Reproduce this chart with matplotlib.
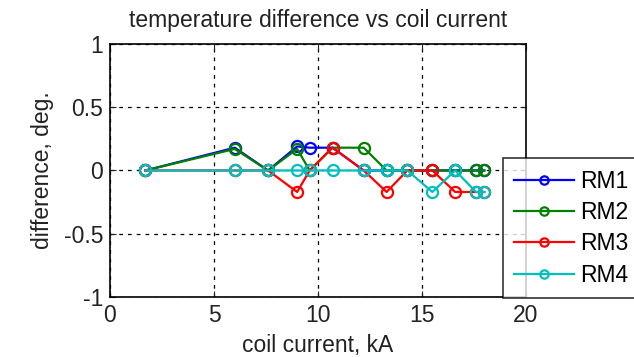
import matplotlib
matplotlib.use('Agg')
import matplotlib.pyplot as plt

plt.rcParams['font.family'] = ['Liberation Sans', 'DejaVu Sans']

current = [1.7, 6.0, 7.6, 9.0, 9.6, 10.7, 12.2, 13.3, 14.3, 15.5, 16.6, 17.6, 18.0]
rm1 = [0, 0.18, 0, 0.19, 0.18, 0.18, 0, 0, 0, 0, 0, 0, 0]
rm2 = [0, 0.17, 0, 0.17, 0, 0.18, 0.18, 0, 0, 0, 0, 0, 0]
rm3 = [0, 0, 0, -0.17, 0, 0.18, 0, -0.17, 0, 0, -0.17, -0.17, -0.17]
rm4 = [0, 0, 0, 0, 0, 0, 0, 0, 0, -0.17, 0, -0.17, -0.17]
names = ['RM1', 'RM2', 'RM3', 'RM4']
colors = ['#0000ff', '#007f00', '#ff0000', '#00bfbf']

fs = 16.5
txt = '#222222'

fig = plt.figure(figsize=(6.34, 3.57), dpi=100)
ax = fig.add_axes([0.1735, 0.168, 0.656, 0.709])

for y, name, c in zip([rm1, rm2, rm3, rm4], names, colors):
    ax.plot(current, y, color=c, lw=1.6, marker='o', ms=8, mfc='none',
            mew=1.6, label=name)

ax.set_xlim(0, 20)
ax.set_ylim(-1, 1)
ax.set_xticks([0, 5, 10, 15, 20])
ax.set_yticks([-1, -0.5, 0, 0.5, 1])
ax.set_yticklabels(['-1', '-0.5', '0', '0.5', '1'])
ax.grid(True, color='black', linestyle=(0, (3, 4)), linewidth=0.9)
ax.tick_params(direction='in', labelsize=fs, colors=txt, length=4, top=True, right=True, pad=5)
for s in ax.spines.values():
    s.set_linewidth(1.2)

ax.set_title('temperature difference vs coil current', fontsize=fs, pad=12, color=txt)
ax.set_xlabel('coil current, kA', fontsize=fs, color=txt, labelpad=5)
ax.set_ylabel('difference, deg.', fontsize=fs, color=txt, labelpad=7)

leg = fig.legend(loc='lower left', bbox_to_anchor=(503 / 634, 59 / 357),
                 fontsize=fs, frameon=True, fancybox=False, handlelength=2.6,
                 borderaxespad=0, borderpad=0.5, labelspacing=0.36, handletextpad=0.25)
leg.get_frame().set_edgecolor('black')
leg.get_frame().set_linewidth(1.2)
for h in leg.legend_handles:
    h.set_markersize(6)

plt.savefig('out.png', dpi=100)
